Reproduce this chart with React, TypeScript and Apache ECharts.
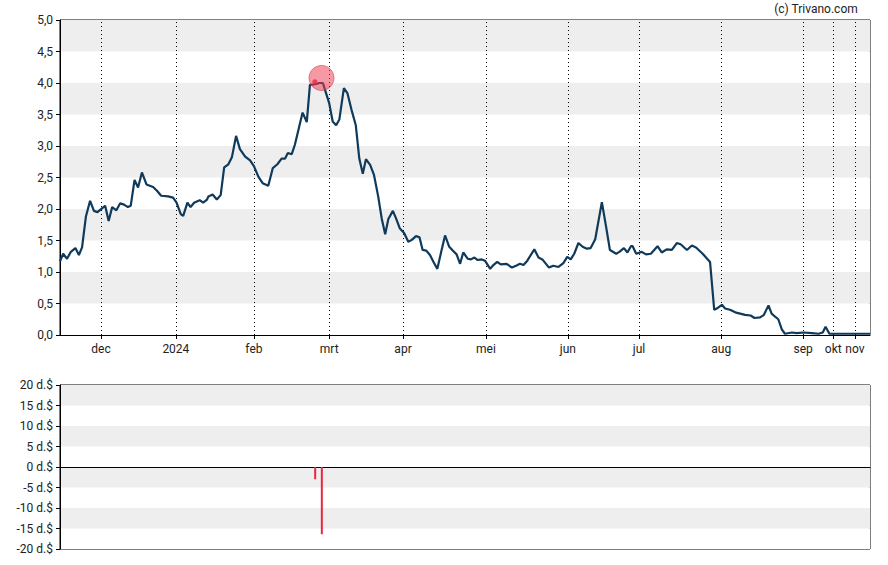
import React, { useEffect, useRef } from "react";
import * as echarts from "echarts";

// Trading-day index positions of month starts and their labels
const monthTicks = [11.7, 33.1, 55.4, 76.9, 98.0, 121.7, 145.1, 165.4, 188.9, 212.3, 220.9, 227.1];
const monthLabels = ["dec", "2024", "feb", "mrt", "apr", "mei", "jun", "jul", "aug", "sep", "okt", "nov"];

// Price line: [trading-day index, price]
const pricePoints: [number, number][] = [
  [0, 1.17], [0.9, 1.29], [2.0, 1.21], [3.1, 1.32], [4.4, 1.38], [5.4, 1.27], [6.3, 1.39], [7.4, 1.88],
  [8.6, 2.13], [9.7, 1.97], [10.7, 1.95], [12.0, 2.01], [12.9, 2.05], [13.9, 1.81], [14.9, 2.03], [16.1, 1.98],
  [17.2, 2.09], [18.3, 2.07], [19.4, 2.03], [20.2, 2.05], [21.3, 2.46], [22.3, 2.34], [23.4, 2.58], [24.7, 2.39],
  [26.6, 2.35], [27.7, 2.29], [28.9, 2.21], [30.9, 2.2], [32.3, 2.18], [33.3, 2.1], [34.5, 1.92], [35.2, 1.89],
  [36.4, 2.1], [37.3, 2.03], [38.3, 2.1], [39.9, 2.14], [40.9, 2.1], [42.0, 2.15], [42.4, 2.2], [43.6, 2.23],
  [44.8, 2.15], [45.9, 2.22], [46.9, 2.66], [48.1, 2.71], [49.1, 2.82], [50.3, 3.16], [51.4, 2.95], [52.9, 2.83],
  [54.3, 2.77], [55.4, 2.68], [56.7, 2.51], [57.9, 2.41], [59.5, 2.37], [60.8, 2.65], [62.1, 2.71], [63.3, 2.8],
  [64.3, 2.8], [65.1, 2.89], [66.2, 2.87], [67.1, 3.02], [69.3, 3.53], [70.5, 3.38], [71.4, 3.97], [72.9, 3.98],
  [74.1, 4.0], [75.1, 4.0], [76.0, 3.84], [76.9, 3.68], [77.9, 3.39], [78.9, 3.33], [79.8, 3.42], [81.1, 3.92],
  [82.1, 3.84], [83.3, 3.57], [84.5, 3.33], [85.5, 2.8], [86.5, 2.56], [87.4, 2.79], [88.6, 2.7], [89.7, 2.54],
  [90.9, 2.2], [91.9, 1.85], [92.9, 1.6], [93.8, 1.84], [95.1, 1.97], [96.0, 1.85], [97.1, 1.69], [98.3, 1.62],
  [99.5, 1.48], [100.5, 1.51], [101.7, 1.57], [102.7, 1.55], [103.6, 1.35], [104.6, 1.34], [105.7, 1.27], [106.7, 1.16],
  [107.8, 1.05], [108.9, 1.32], [110.0, 1.58], [111.2, 1.4], [112.2, 1.34], [113.3, 1.28], [114.3, 1.13], [115.2, 1.31],
  [116.5, 1.21], [117.4, 1.2], [118.4, 1.23], [119.3, 1.19], [120.5, 1.2], [121.4, 1.18], [122.9, 1.05], [123.8, 1.11],
  [124.9, 1.16], [125.9, 1.12], [127.6, 1.13], [129.1, 1.07], [130.3, 1.1], [131.4, 1.13], [132.4, 1.11], [133.5, 1.18],
  [135.5, 1.36], [136.7, 1.23], [137.8, 1.2], [139.7, 1.07], [140.9, 1.1], [142.4, 1.08], [143.8, 1.14], [144.9, 1.24],
  [145.9, 1.2], [146.9, 1.29], [148.1, 1.46], [149.3, 1.4], [150.5, 1.37], [151.6, 1.38], [152.9, 1.52], [154.8, 2.11],
  [156.0, 1.72], [157.1, 1.35], [158.9, 1.29], [159.8, 1.32], [161.1, 1.38], [162.1, 1.31], [163.1, 1.41], [163.6, 1.41],
  [164.6, 1.29], [166.2, 1.32], [167.4, 1.28], [168.8, 1.29], [170.7, 1.41], [171.9, 1.31], [173.3, 1.36], [174.8, 1.35],
  [176.2, 1.46], [177.3, 1.44], [179.1, 1.35], [180.5, 1.42], [181.7, 1.39], [183.6, 1.29], [185.7, 1.16], [186.9, 0.4],
  [187.9, 0.43], [189.1, 0.48], [190.0, 0.42], [191.4, 0.4], [192.9, 0.36], [194.3, 0.34], [195.7, 0.32], [197.3, 0.31],
  [198.4, 0.27], [200.0, 0.28], [201.1, 0.32], [202.4, 0.47], [203.3, 0.34], [204.3, 0.29], [205.2, 0.25], [206.2, 0.09],
  [207.1, 0.02], [209.1, 0.04], [210.5, 0.03], [212.4, 0.04], [214.8, 0.03], [216.7, 0.02], [217.9, 0.04], [218.7, 0.13],
  [219.8, 0.02], [221.9, 0.02], [231.4, 0.02],
];

const maxMarker: [number, number][] = [[74.7, 4.08]];
const smallMarker: [number, number][] = [[72.8, 4.02]];

// Bottom panel bars (d.$)
const dividendPoints: [number, number][] = [[72.9, -3.0], [74.8, -16.4]];

const topYTicks = { min: 0, max: 5, interval: 0.5 };
const bottomYTicks = { min: -20, max: 20, interval: 5 };
const xMax = 231.4;

export default function App() {
  const ref = useRef<HTMLDivElement>(null);
  useEffect(() => {
    if (!ref.current) return;
    const chart = echarts.init(ref.current, undefined, { renderer: "svg" });
    const font = "Roboto";
    const labelColor = "#222";
    const monthFmt = (v: number) => {
      let best = 0;
      let bd = Infinity;
      monthTicks.forEach((t, i) => {
        const d = Math.abs(t - v);
        if (d < bd) { bd = d; best = i; }
      });
      return monthLabels[best];
    };
    chart.setOption({
      animation: false,
      textStyle: { fontFamily: font },
      graphic: [
        {
          type: "text",
          right: 30,
          top: 3,
          style: { text: "(c) Trivano.com", fontFamily: font, fontSize: 12, fill: labelColor },
        },
      ],
      grid: [
        { left: 60, top: 20, width: 810, height: 315, show: true, borderColor: "#000", borderWidth: 1, backgroundColor: "transparent" },
        { left: 60, top: 385, width: 810, height: 164, show: true, borderColor: "#000", borderWidth: 1, backgroundColor: "transparent" },
      ],
      xAxis: [
        {
          type: "value",
          gridIndex: 0,
          min: 0,
          max: xMax,
          axisLine: { show: true, onZero: false, lineStyle: { color: "#000", width: 1 } },
          axisTick: { show: true, customValues: monthTicks, length: 4, lineStyle: { color: "#000" } },
          axisLabel: { show: true, customValues: monthTicks, formatter: monthFmt, color: labelColor, fontSize: 12, margin: 8, fontFamily: font },
          splitLine: { show: false },
        },
        {
          type: "value",
          gridIndex: 1,
          min: 0,
          max: xMax,
          axisLine: { show: true, onZero: true, lineStyle: { color: "#000", width: 1 } },
          axisTick: { show: false },
          axisLabel: { show: false },
          splitLine: { show: false },
        },
      ],
      yAxis: [
        {
          type: "value",
          gridIndex: 0,
          ...topYTicks,
          axisLine: { show: true, lineStyle: { color: "#000" } },
          axisTick: { show: true, length: 4, lineStyle: { color: "#000" } },
          axisLabel: { color: labelColor, fontSize: 12, margin: 7, fontFamily: font, formatter: (v: number) => v.toFixed(1).replace(".", ",") },
          splitLine: { show: false },
          splitArea: { show: true, areaStyle: { color: ["#ffffff", "#eeeeee"] } },
        },
        {
          type: "value",
          gridIndex: 1,
          ...bottomYTicks,
          axisLine: { show: true, lineStyle: { color: "#000" } },
          axisTick: { show: true, length: 4, lineStyle: { color: "#000" } },
          axisLabel: { color: labelColor, fontSize: 12, margin: 7, fontFamily: font, formatter: (v: number) => `${v} d.$` },
          splitLine: { show: false },
          splitArea: { show: true, areaStyle: { color: ["#ffffff", "#eeeeee"] } },
        },
      ],
      series: [
        {
          type: "line",
          xAxisIndex: 0,
          yAxisIndex: 0,
          data: pricePoints,
          showSymbol: false,
          lineStyle: { color: "#0f3a5b", width: 2.2 },
          z: 3,
          markLine: {
            silent: true,
            symbol: ["none", "none"],
            label: { show: false },
            lineStyle: { color: "#000", type: [1, 3], width: 1 },
            data: monthTicks.map((t) => ({ xAxis: t })),
            z: 1,
          },
        },
        {
          type: "scatter",
          xAxisIndex: 0,
          yAxisIndex: 0,
          data: maxMarker,
          symbolSize: 25,
          itemStyle: { color: "rgba(240,60,80,0.65)", borderColor: "rgba(225,40,60,0.7)", borderWidth: 1 },
          z: 4,
        },
        {
          type: "scatter",
          xAxisIndex: 0,
          yAxisIndex: 0,
          data: smallMarker,
          symbolSize: 5,
          itemStyle: { color: "#e8283c" },
          z: 5,
        },
        {
          type: "bar",
          xAxisIndex: 1,
          yAxisIndex: 1,
          data: dividendPoints,
          barWidth: 2,
          itemStyle: { color: "#e8283c" },
        },
      ],
    });
    return () => chart.dispose();
  }, []);
  return <div ref={ref} style={{ position: "absolute", left: 0, top: 0, width: 888, height: 565 }} />;
}
